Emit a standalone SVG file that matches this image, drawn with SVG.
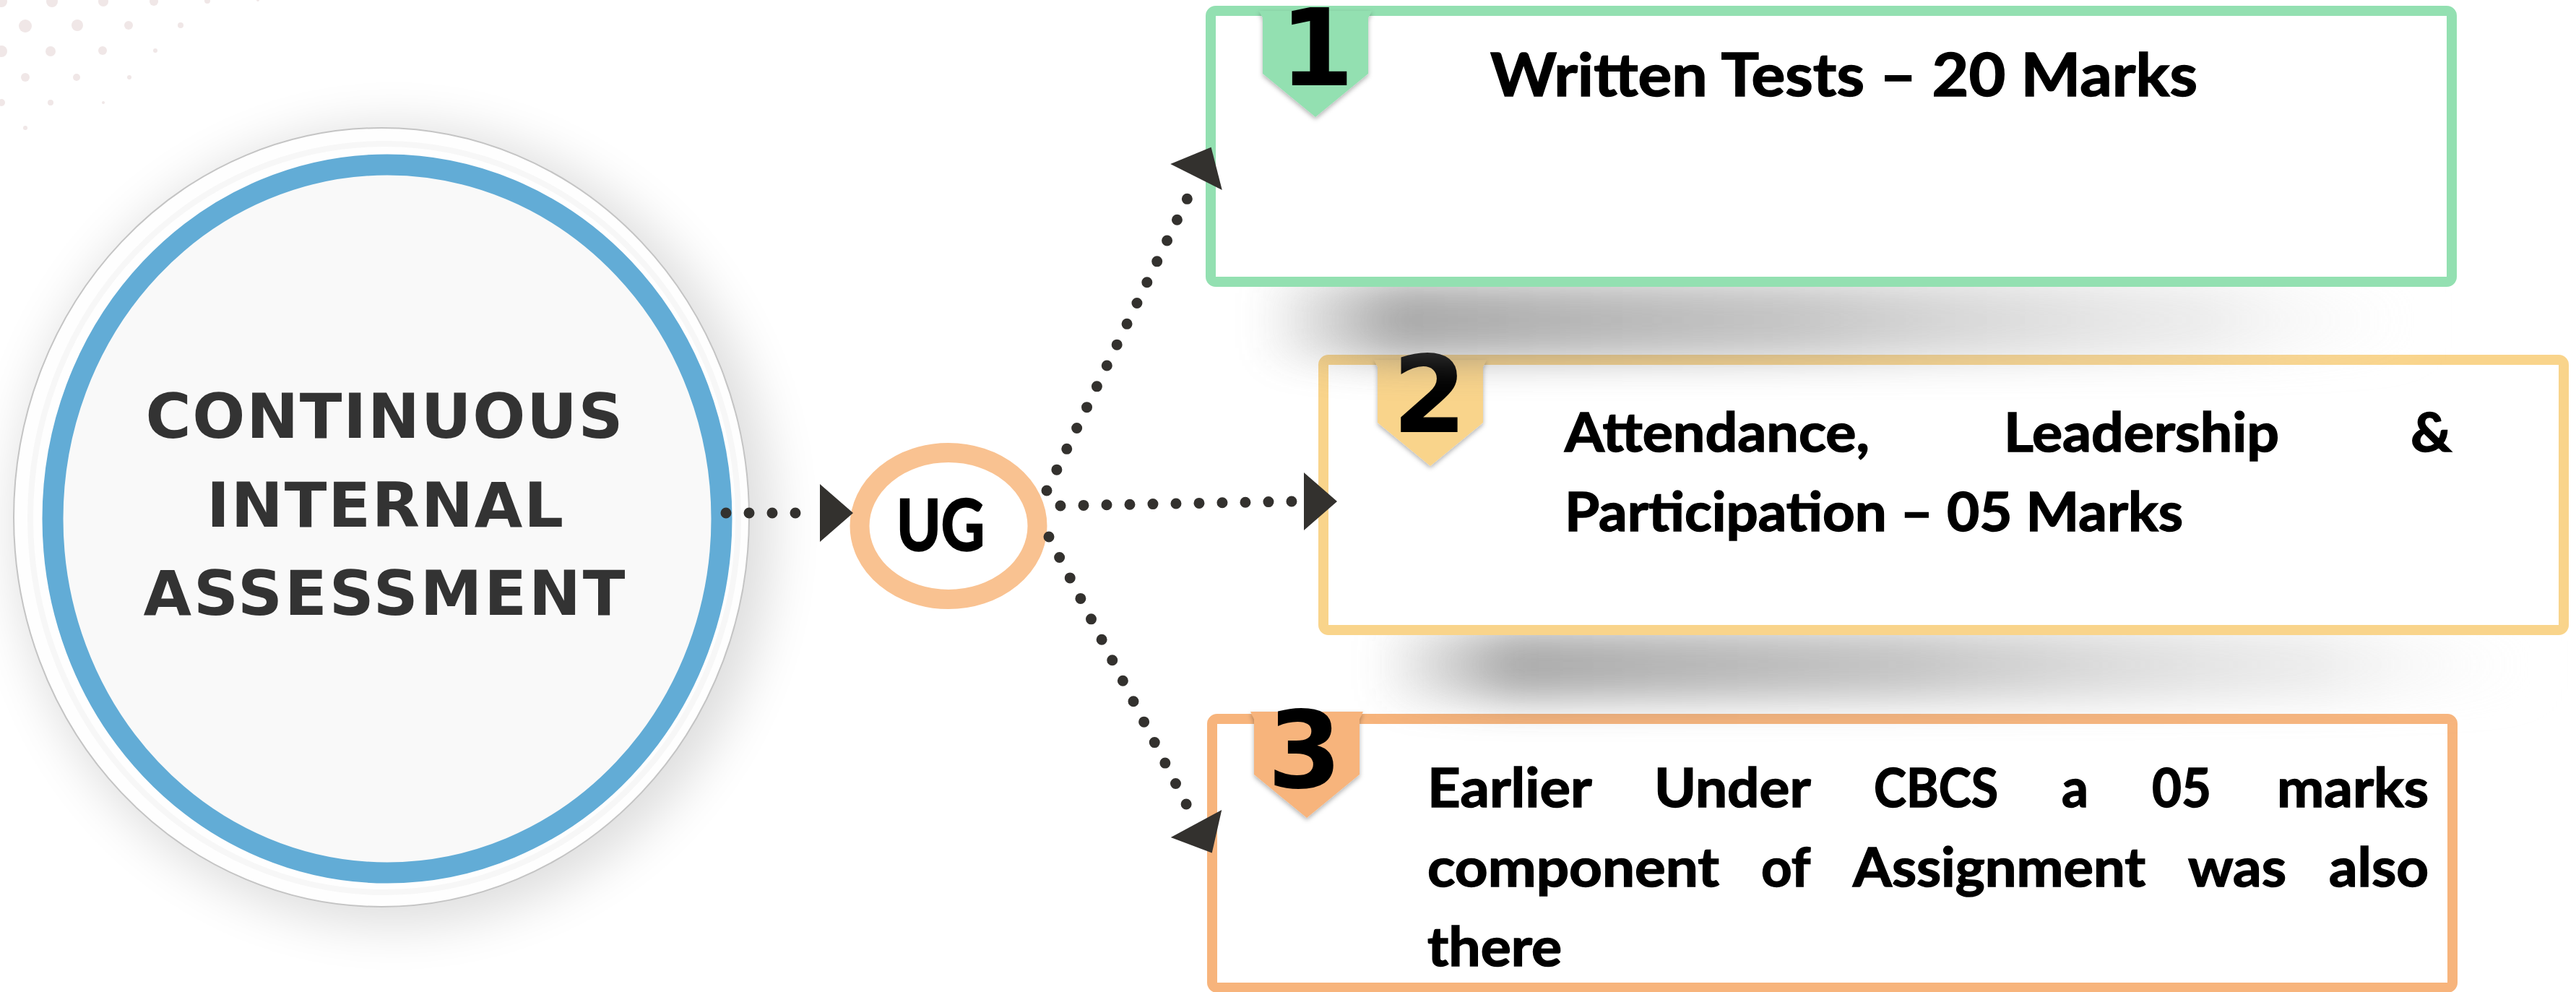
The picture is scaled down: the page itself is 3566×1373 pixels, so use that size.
<svg xmlns="http://www.w3.org/2000/svg" width="3566" height="1373" viewBox="0 0 3566 1373">
<defs>
<style>
.pdot{fill:#f0e7e7}
.cia-text{font-family:"DejaVu Sans","Liberation Sans",sans-serif;font-weight:700;font-size:86px;fill:#333333;text-anchor:middle}
.ug-text{font-family:Lato,"Liberation Sans",sans-serif;font-weight:700;font-size:97px;fill:#000;stroke:#000;stroke-width:2.5;text-anchor:middle}
.box{fill:#fff;stroke-width:14}
.btxt{font-family:Lato,"Liberation Sans",sans-serif;font-weight:700;fill:#000;stroke:#000;stroke-width:1.5}
.b1t{font-size:82px}
.b23t{font-size:75px}
.num{font-family:"DejaVu Sans","Liberation Sans",sans-serif;font-weight:700;font-size:148px;fill:#000;text-anchor:middle}
.dots{fill:none;stroke:#33312e;stroke-width:15;stroke-linecap:round;stroke-dasharray:0 32}
.ah{fill:#33312e}
.shadow{fill:url(#shadowGrad);filter:url(#blurShadow);opacity:0.6}
</style>
<filter id="blurBig" x="-20%" y="-20%" width="140%" height="140%"><feGaussianBlur stdDeviation="35"/></filter>
<filter id="blurShadow" x="-20%" y="-150%" width="140%" height="400%"><feGaussianBlur stdDeviation="26"/></filter>
<filter id="badgeShadow" x="-30%" y="-30%" width="160%" height="160%"><feDropShadow dx="0" dy="3" stdDeviation="3" flood-color="#000" flood-opacity="0.3"/></filter>
<linearGradient id="shadowGrad" x1="0" x2="1" y1="0" y2="0">
<stop offset="0" stop-color="#707070" stop-opacity="0"/>
<stop offset="0.12" stop-color="#6a6a6a" stop-opacity="0.95"/>
<stop offset="0.45" stop-color="#858585" stop-opacity="0.8"/>
<stop offset="0.8" stop-color="#bdbdbd" stop-opacity="0.45"/>
<stop offset="1" stop-color="#ffffff" stop-opacity="0"/>
</linearGradient>
<path id="ahead" d="M0,-40 L46,0 L0,40 Z"/>
</defs>
<rect width="3566" height="1373" fill="#ffffff"/>
<g id="bg-dots">
<circle class="pdot" cx="2" cy="2" r="8"/><circle class="pdot" cx="72" cy="2" r="8"/><circle class="pdot" cx="143" cy="2" r="7"/><circle class="pdot" cx="213" cy="2" r="6"/><circle class="pdot" cx="287" cy="1" r="4"/><circle class="pdot" cx="357" cy="0" r="2"/>
<circle class="pdot" cx="35" cy="36" r="9"/><circle class="pdot" cx="107" cy="35" r="8"/><circle class="pdot" cx="178" cy="35" r="6"/><circle class="pdot" cx="250" cy="35" r="4"/>
<circle class="pdot" cx="2" cy="71" r="8"/><circle class="pdot" cx="70" cy="71" r="7"/><circle class="pdot" cx="142" cy="70" r="6"/><circle class="pdot" cx="215" cy="70" r="3"/>
<circle class="pdot" cx="35" cy="107" r="6"/><circle class="pdot" cx="106" cy="107" r="5"/><circle class="pdot" cx="179" cy="107" r="3"/>
<circle class="pdot" cx="2" cy="142" r="5"/><circle class="pdot" cx="70" cy="142" r="4"/><circle class="pdot" cx="143" cy="142" r="2"/>
<circle class="pdot" cx="35" cy="177" r="3"/>
</g>
<g id="node-cia">
<ellipse cx="545" cy="728" rx="525" ry="553" fill="#000" opacity="0.13" filter="url(#blurBig)"/>
<ellipse cx="528" cy="716" rx="509" ry="539" fill="#fefefe" stroke="#c4c4c4" stroke-width="2"/>
<ellipse cx="532" cy="717" rx="490" ry="518" fill="none" stroke="#f7f7f7" stroke-width="8"/>
<ellipse cx="536" cy="718" rx="463" ry="490" fill="#f9f9f9" stroke="#62acd6" stroke-width="29"/>
<text class="cia-text" x="532" y="606" textLength="661" lengthAdjust="spacing">CONTINUOUS</text>
<text class="cia-text" x="533" y="729" textLength="494" lengthAdjust="spacing">INTERNAL</text>
<text class="cia-text" x="532" y="851" textLength="667" lengthAdjust="spacing">ASSESSMENT</text>
</g>
<g id="node-ug">
<ellipse cx="1313" cy="728" rx="123" ry="101.5" fill="#fff" stroke="#f9c291" stroke-width="27"/>
<text class="ug-text" x="1302" y="762" textLength="122" lengthAdjust="spacingAndGlyphs">UG</text>
</g>
<g id="node-box3">
<rect class="shadow" x="1760" y="1372" width="1620" height="90"/>
<rect class="box" x="1678" y="995" width="1717" height="372" rx="7" stroke="#f7b47c"/>
<polygon points="1731,985 1887,985 1882,995 1882,1072 1809,1132 1736,1072 1736,995" fill="#f7b47c" filter="url(#badgeShadow)"/>
<text class="num" x="1806" y="1090">3</text>
<text class="btxt b23t" y="1117"><tspan x="1976" textLength="226" lengthAdjust="spacingAndGlyphs">Earlier</tspan> <tspan x="2290" textLength="215" lengthAdjust="spacingAndGlyphs">Under</tspan> <tspan x="2594" textLength="172" lengthAdjust="spacingAndGlyphs">CBCS</tspan> <tspan x="2854" textLength="37" lengthAdjust="spacingAndGlyphs">a</tspan> <tspan x="2979" textLength="82" lengthAdjust="spacingAndGlyphs">05</tspan> <tspan x="3152" textLength="210" lengthAdjust="spacingAndGlyphs">marks</tspan></text>
<text class="btxt b23t" y="1227"><tspan x="1976" textLength="404" lengthAdjust="spacingAndGlyphs">component</tspan> <tspan x="2438" textLength="67" lengthAdjust="spacingAndGlyphs">of</tspan> <tspan x="2565" textLength="405" lengthAdjust="spacingAndGlyphs">Assignment</tspan> <tspan x="3029" textLength="136" lengthAdjust="spacingAndGlyphs">was</tspan> <tspan x="3224" textLength="138" lengthAdjust="spacingAndGlyphs">also</tspan></text>
<text class="btxt b23t" x="1976" y="1337" textLength="186" lengthAdjust="spacingAndGlyphs">there</text>
</g>
<g id="node-box2">
<rect class="shadow" x="1900" y="870" width="1640" height="100"/>
<rect class="box" x="1832" y="498" width="1717" height="374" rx="7" stroke="#f9d48b"/>
<polygon points="1902,498 2058,498 2053,508 2053,585 1980,645 1907,585 1907,508" fill="#f9d48b" filter="url(#badgeShadow)"/>
<text class="num" x="1979" y="598">2</text>
<text class="btxt b23t" y="625"><tspan x="2166" textLength="422" lengthAdjust="spacingAndGlyphs">Attendance,</tspan> <tspan x="2774" textLength="381" lengthAdjust="spacingAndGlyphs">Leadership</tspan> <tspan x="3337" textLength="57" lengthAdjust="spacingAndGlyphs">&amp;</tspan></text>
<text class="btxt b23t" x="2166" y="735" textLength="856" lengthAdjust="spacingAndGlyphs">Participation – 05 Marks</text>
</g>
<g id="node-box1">
<rect class="shadow" x="1740" y="388" width="1640" height="110"/>
<rect class="box" x="1676" y="15" width="1718" height="375" rx="7" stroke="#93e0b1"/>
<polygon points="1743,15 1899,15 1894,25 1894,102 1821,162 1748,102 1748,25" fill="#93e0b1" filter="url(#badgeShadow)"/>
<text class="num" x="1823" y="118">1</text>
<text class="btxt b1t" x="2063" y="133" textLength="979" lengthAdjust="spacingAndGlyphs">Written Tests – 20 Marks</text>
</g>
<g id="connectors">
<path class="dots" d="M1005,710 L1133,710"/>
<use href="#ahead" class="ah" transform="translate(1135,710)"/>
<path class="dots" d="M1468,700 L1789,694"/>
<use href="#ahead" class="ah" transform="translate(1805,694)"/>
<path class="dots" d="M1449,679 L1657,247"/>
<use href="#ahead" class="ah" transform="translate(1656,245) rotate(-63.4)"/>
<path class="dots" d="M1452,743 L1656,1140"/>
<use href="#ahead" class="ah" transform="translate(1656,1140) rotate(61.8)"/>
</g>
</svg>
